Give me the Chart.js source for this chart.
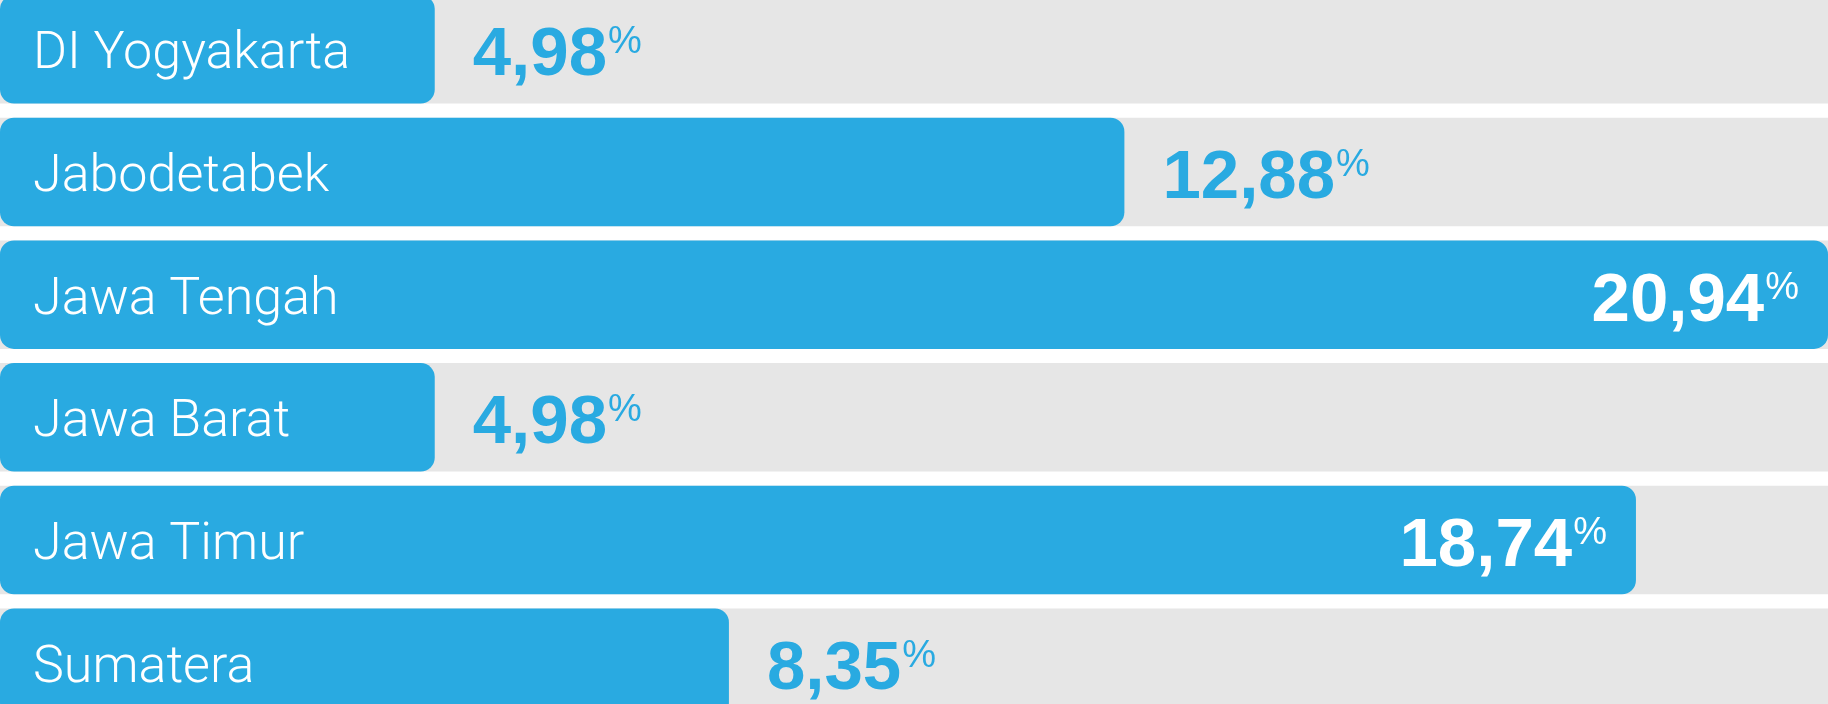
<!DOCTYPE html>
<html>
<head>
<meta charset="utf-8">
<script src="https://cdn.jsdelivr.net/npm/chart.js@4.4.0/dist/chart.umd.min.js"></script>
<style>
  html, body { margin: 0; padding: 0; background: #fff; overflow: hidden; }
  #wrap { position: absolute; left: 0; top: -12px; width: 1828px; height: 736px; }
</style>
</head>
<body>
<div id="wrap"><canvas id="shareChart" width="1828" height="736"></canvas></div>
<script>
const regions = ['DI Yogyakarta', 'Jabodetabek', 'Jawa Tengah', 'Jawa Barat', 'Jawa Timur', 'Sumatera'];
const shares = [4.98, 12.88, 20.94, 4.98, 18.74, 8.35];
const axisMax = 20.94;
const track = regions.map(() => axisMax);

const BLUE = '#29aae1';
const GREY = '#e6e6e6';

// names inside the bar, values after it (or inside when the bar is long)
const barLabels = {
    id: 'barLabels',
    afterDatasetsDraw(chart) {
        const ctx = chart.ctx;
        const meta = chart.getDatasetMeta(0);
        meta.data.forEach((bar, i) => {
            ctx.save();
            ctx.textBaseline = 'alphabetic';
            ctx.textAlign = 'left';

            ctx.font = '300 52px Roboto';
            ctx.fillStyle = '#fff';
            ctx.fillText(regions[i], bar.base + 33, bar.y + 19);

            const num = shares[i].toFixed(2).replace('.', ',');
            ctx.font = 'bold 69px "Liberation Sans"';
            const numW = ctx.measureText(num).width;
            ctx.font = '38px "Liberation Sans"';
            const pctW = ctx.measureText('%').width;

            const inside = shares[i] > 15;
            const x = inside ? bar.x - 30 - pctW - numW : bar.x + 38;
            ctx.fillStyle = inside ? '#fff' : BLUE;
            ctx.font = 'bold 69px "Liberation Sans"';
            ctx.fillText(num, x, bar.y + 26);
            ctx.font = '38px "Liberation Sans"';
            ctx.fillText('%', x + numW + 1, bar.y + 4);
            ctx.restore();
        });
    }
};

new Chart(document.getElementById('shareChart'), {
    type: 'bar',
    data: {
        labels: regions,
        datasets: [
            {
                label: 'Share',
                data: shares,
                backgroundColor: BLUE,
                borderRadius: 14,
                borderSkipped: false,
                order: 0
            },
            {
                label: 'Track',
                data: track,
                backgroundColor: GREY,
                borderRadius: 0,
                order: 1
            }
        ]
    },
    options: {
        indexAxis: 'y',
        responsive: false,
        animation: false,
        devicePixelRatio: 1,
        layout: { padding: 0 },
        datasets: {
            bar: {
                grouped: false,
                categoryPercentage: 1,
                barPercentage: 0.885
            }
        },
        plugins: {
            legend: { display: false },
            tooltip: { enabled: false }
        },
        scales: {
            x: { display: false, min: 0, max: axisMax },
            y: { display: false }
        }
    },
    plugins: [barLabels]
});
</script>
</body>
</html>
